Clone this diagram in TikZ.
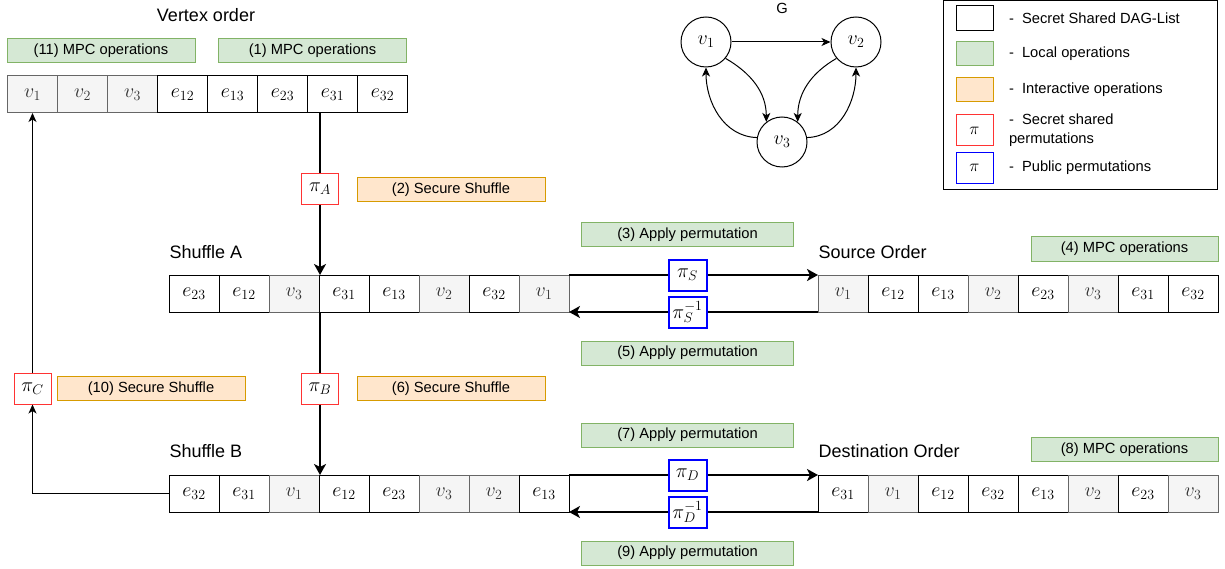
\documentclass[tikz,border=0pt]{standalone}
\usepackage{fix-cm}
\usepackage[no-math]{fontspec}
\setmainfont{Liberation Sans}
\usetikzlibrary{positioning,arrows.meta,shapes}

\definecolor{localfill}{HTML}{D5E8D4}
\definecolor{localdraw}{HTML}{82B366}
\definecolor{interfill}{HTML}{FFE6CC}
\definecolor{interdraw}{HTML}{D79B00}
\definecolor{cellgray}{HTML}{F5F5F5}
\definecolor{cellline}{HTML}{666666}
\definecolor{celltext}{HTML}{333333}
\definecolor{secred}{HTML}{FF3333}
\definecolor{pubblue}{HTML}{0000FF}

\tikzset{every picture/.style={line width=1pt}}
\tikzset{
    cell/.style={draw, rectangle, minimum width=50pt, minimum height=37pt, inner sep=0pt, outer sep=0pt, font=\fontsize{20}{24}\selectfont},
    ecell/.style={cell, fill=white},
    vcell/.style={cell, fill=cellgray, draw=cellline, text=celltext},
    localop/.style={draw=localdraw, fill=localfill, rectangle, minimum height=24pt, inner sep=0pt, font=\fontsize{14.7}{17}\selectfont},
    interop/.style={draw=interdraw, fill=interfill, rectangle, minimum height=24pt, inner sep=0pt, font=\fontsize{14.7}{17}\selectfont},
    secperm/.style={draw=secred, fill=white, rectangle, minimum width=37pt, minimum height=31pt, inner sep=0pt, font=\fontsize{20}{24}\selectfont},
    pubperm/.style={draw=pubblue, fill=white, rectangle, minimum width=38pt, minimum height=31pt, inner sep=0pt, font=\fontsize{20}{24}\selectfont},
    title/.style={inner sep=0pt, font=\fontsize{18}{21}\selectfont},
    legtext/.style={inner sep=0pt, anchor=west, align=left, font=\fontsize{14.7}{19}\selectfont},
    vertex/.style={draw, circle, minimum size=50pt, inner sep=0pt, font=\fontsize{20}{24}\selectfont},
    bigarrow/.style={line width=2pt, -{Stealth[length=11pt,width=12pt,inset=3pt]}},
    thinarrow/.style={line width=1pt, -{Stealth[length=9pt,width=8pt,inset=2.5pt]}}
}

\begin{document}
\begin{tikzpicture}[x=1pt, y=-1pt]
\useasboundingbox (0,0) rectangle (1225,569);

    % Vertex order
\node[title] (tvo) at (206,15) {Vertex order};
\node[localop, minimum width=188pt] (op11) at (101,50.5) {(11) MPC operations};
\node[localop, minimum width=188pt] (op1) at (312.5,50.5) {(1) MPC operations};
\node[vcell] (vo1) at (32.5,94.5) {$v_1$};
\node[vcell, right=0pt of vo1] (vo2) {$v_2$};
\node[vcell, right=0pt of vo2] (vo3) {$v_3$};
\node[ecell, right=0pt of vo3] (vo4) {$e_{12}$};
\node[ecell, right=0pt of vo4] (vo5) {$e_{13}$};
\node[ecell, right=0pt of vo5] (vo6) {$e_{23}$};
\node[ecell, right=0pt of vo6] (vo7) {$e_{31}$};
\node[ecell, right=0pt of vo7] (vo8) {$e_{32}$};

    % Shuffle A
\node[title, anchor=west] (tsa) at (169,252) {Shuffle A};
\node[ecell] (sa1) at (194,293.5) {$e_{23}$};
\node[ecell, right=0pt of sa1] (sa2) {$e_{12}$};
\node[vcell, right=0pt of sa2] (sa3) {$v_3$};
\node[ecell, right=0pt of sa3] (sa4) {$e_{31}$};
\node[ecell, right=0pt of sa4] (sa5) {$e_{13}$};
\node[vcell, right=0pt of sa5] (sa6) {$v_2$};
\node[ecell, right=0pt of sa6] (sa7) {$e_{32}$};
\node[vcell, right=0pt of sa7] (sa8) {$v_1$};

    % Source order
\node[title, anchor=west] (tso) at (818,252) {Source Order};
\node[localop, minimum width=187pt] (op4) at (1124.5,249) {(4) MPC operations};
\node[vcell] (so1) at (843,293.5) {$v_1$};
\node[ecell, right=0pt of so1] (so2) {$e_{12}$};
\node[ecell, right=0pt of so2] (so3) {$e_{13}$};
\node[vcell, right=0pt of so3] (so4) {$v_2$};
\node[ecell, right=0pt of so4] (so5) {$e_{23}$};
\node[vcell, right=0pt of so5] (so6) {$v_3$};
\node[ecell, right=0pt of so6] (so7) {$e_{31}$};
\node[ecell, right=0pt of so7] (so8) {$e_{32}$};

    % Shuffle B
\node[title, anchor=west] (tsb) at (169,451) {Shuffle B};
\node[ecell] (sb1) at (194,493.5) {$e_{32}$};
\node[ecell, right=0pt of sb1] (sb2) {$e_{31}$};
\node[vcell, right=0pt of sb2] (sb3) {$v_1$};
\node[ecell, right=0pt of sb3] (sb4) {$e_{12}$};
\node[ecell, right=0pt of sb4] (sb5) {$e_{23}$};
\node[vcell, right=0pt of sb5] (sb6) {$v_3$};
\node[vcell, right=0pt of sb6] (sb7) {$v_2$};
\node[ecell, right=0pt of sb7] (sb8) {$e_{13}$};

    % Destination order
\node[title, anchor=west] (tdo) at (818,451) {Destination Order};
\node[localop, minimum width=187pt] (op8) at (1124.5,449.5) {(8) MPC operations};
\node[ecell] (do1) at (843,493.5) {$e_{31}$};
\node[vcell, right=0pt of do1] (do2) {$v_1$};
\node[ecell, right=0pt of do2] (do3) {$e_{12}$};
\node[ecell, right=0pt of do3] (do4) {$e_{32}$};
\node[ecell, right=0pt of do4] (do5) {$e_{13}$};
\node[vcell, right=0pt of do5] (do6) {$v_2$};
\node[ecell, right=0pt of do6] (do7) {$e_{23}$};
\node[vcell, right=0pt of do7] (do8) {$v_3$};

    % Secret shared permutations
\node[secperm] (piA) at (320,189) {$\pi_A$};
\node[interop, minimum width=188pt] (op2) at (451,189.5) {(2) Secure Shuffle};
\node[secperm] (piB) at (320,388.5) {$\pi_B$};
\node[interop, minimum width=188pt] (op6) at (451,388.5) {(6) Secure Shuffle};
\node[secperm] (piC) at (32.5,388.5) {$\pi_C$};
\node[interop, minimum width=188pt] (op10) at (151,388.5) {(10) Secure Shuffle};

    \draw[line width=2pt] (vo7.south -| piA.north) -- (piA.north);
    \draw[bigarrow] (piA.south) -- (piA.south |- sa4.north);
    \draw[line width=2pt] (sa4.south -| piB.north) -- (piB.north);
    \draw[bigarrow] (piB.south) -- (piB.south |- sb4.north);
    \draw[thinarrow] (sb1.west) -| (piC.south);
    \draw[thinarrow] (piC.north) -- (vo1.south);

    % Public permutations
    \draw[bigarrow] (sa8.north east) -- node[pubperm, pos=0.476] (piS) {$\pi_S$} (so1.north west);
    \draw[bigarrow] (so1.south west) -- node[pubperm, pos=0.524] (piSi) {$\pi_S^{-1}$} (sa8.south east);
    \draw[bigarrow] (sb8.north east) -- node[pubperm, pos=0.476] (piD) {$\pi_D$} (do1.north west);
    \draw[bigarrow] (do1.south west) -- node[pubperm, pos=0.524] (piDi) {$\pi_D^{-1}$} (sb8.south east);
\node[localop, minimum width=212pt, above=11pt of piS] (op3) {(3) Apply permutation};
\node[localop, minimum width=212pt, below=12pt of piSi] (op5) {(5) Apply permutation};
\node[localop, minimum width=212pt, above=11pt of piD] (op7) {(7) Apply permutation};
\node[localop, minimum width=212pt, below=12pt of piDi] (op9) {(9) Apply permutation};

    % Graph G
\node[inner sep=0pt, font=\fontsize{14.7}{17}\selectfont] (tg) at (782,8) {G};
\node[vertex] (g1) at (706,42) {$v_1$};
\node[vertex] (g2) at (856,42) {$v_2$};
\node[vertex] (g3) at (782,142) {$v_3$};
    \draw[thinarrow] (g1) -- (g2);
    \draw[thinarrow] (g1.-40) to[out=-30, in=90] (g3.128);
    \draw[thinarrow] (g3.170) to[out=178, in=-90] (g1.-90);
    \draw[thinarrow] (g2.-140) to[out=-150, in=90] (g3.52);
    \draw[thinarrow] (g3.10) to[out=2, in=-90] (g2.-90);

    % Legend
\node[draw, rectangle, minimum width=274pt, minimum height=189pt, inner sep=0pt] (legend) at (1080,95.5) {};
\node[draw, fill=white, minimum width=37pt, minimum height=25pt, inner sep=0pt] (lg1) at (974.5,18.5) {};
\node[localop, minimum width=37pt] (lg2) at (974.5,53.5) {};
\node[interop, minimum width=37pt] (lg3) at (974.5,89.5) {};
\node[secperm, font=\fontsize{17}{20}\selectfont] (lg4) at (974.5,130.5) {$\pi$};
\node[pubperm, minimum width=37pt, font=\fontsize{17}{20}\selectfont] (lg5) at (974.5,168) {$\pi$};
\node[legtext, right=15pt of lg1] (lt1) {-~~Secret Shared DAG-List};
\node[legtext, right=15pt of lg2] (lt2) {-~~Local operations};
\node[legtext, right=15pt of lg3] (lt3) {-~~Interactive operations};
\node[legtext, right=15pt of lg4] (lt4) {-~~Secret shared\\permutations};
\node[legtext, right=15pt of lg5] (lt5) {-~~Public permutations};
\end{tikzpicture}
\end{document}
